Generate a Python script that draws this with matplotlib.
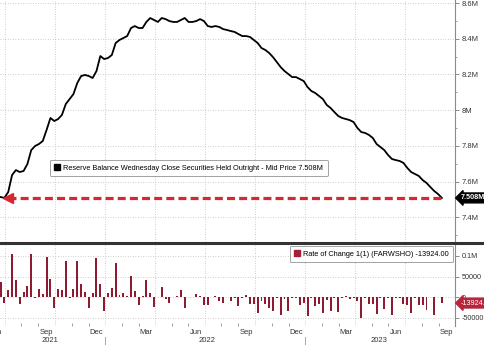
import numpy as np
import pandas as pd
import matplotlib
matplotlib.use("Agg")
import matplotlib.pyplot as plt
import matplotlib.dates as mdates
from matplotlib.patches import Patch
from matplotlib.lines import Line2D
from matplotlib.ticker import MultipleLocator, FuncFormatter

plt.rcParams["font.family"] = ["Liberation Sans", "DejaVu Sans"]

# weekly Wednesday close, securities held outright ($M)
weeks = pd.date_range("2021-06-09", periods=116, freq="7D")
holdings = [
    7.513, 7.508, 7.541, 7.636, 7.664, 7.653, 7.659, 7.698, 7.776, 7.799,
    7.810, 7.827, 7.889, 7.956, 7.939, 7.950, 7.973, 8.034, 8.062, 8.090,
    8.152, 8.191, 8.197, 8.191, 8.180, 8.219, 8.303, 8.286, 8.292, 8.309,
    8.376, 8.393, 8.404, 8.415, 8.460, 8.471, 8.460, 8.460, 8.494, 8.516,
    8.505, 8.494, 8.516, 8.510, 8.499, 8.494, 8.494, 8.505, 8.516, 8.494,
    8.494, 8.499, 8.510, 8.499, 8.471, 8.466, 8.471, 8.466, 8.454, 8.449,
    8.443, 8.438, 8.426, 8.415, 8.415, 8.410, 8.393, 8.376, 8.348, 8.337,
    8.320, 8.297, 8.269, 8.241, 8.219, 8.202, 8.185, 8.185, 8.174, 8.163,
    8.129, 8.107, 8.096, 8.079, 8.062, 8.029, 8.012, 7.989, 7.967, 7.956,
    7.950, 7.944, 7.933, 7.900, 7.877, 7.872, 7.861, 7.844, 7.810, 7.793,
    7.776, 7.748, 7.726, 7.720, 7.715, 7.704, 7.676, 7.653, 7.642, 7.631,
    7.608, 7.592, 7.569, 7.547, 7.530, 7.508,
]
weekly_change = [
    36000, -15000, 17000, 106000, 41000, -17000, 13000, 27000, 104000, -2000,
    20000, 7000, 98000, 45000, -26000, 19000, 17000, 88000, -2000, 19000,
    87000, 33000, 13000, -27000, 11000, 94000, 33000, -33000, 10000, 23000,
    82000, 5000, 11000, 3000, 51000, 15000, -19000, 3000, 43000, 10000,
    -23000, 1000, 25000, -5000, -15000, 1000, 2000, 18000, -25000, 1000,
    1000, 9000, 3000, -19000, -19000, 1000, 2000, -9000, -15000, 1000,
    -10000, -2000, -22000, -1000, 5000, -16000, -16000, -38000, -10000, -16000,
    -26000, -34000, -1000, -42000, -3000, -33000, -1000, -1000, -18000, -15000,
    -45000, -1000, -20000, -16000, -38000, -6000, -34000, -1000, -36000, -1000,
    3000, -3000, -1000, -8000, -50000, -1000, -16000, -16000, -40000, -1000,
    -28000, -1000, -42000, -1000, -1000, -16000, -19000, -37000, -1000, -19000,
    -19000, -31000, 1000, -42000, 1000, -13924,
]
month_labels = ["Jun", "Sep", "Dec", "Mar", "Jun", "Sep", "Dec", "Mar", "Jun", "Sep"]
year_labels = ["2021", "2022", "2023"]
line_label = "Reserve Balance Wednesday Close Securities Held Outright - Mid Price 7.508M"
bar_label = "Rate of Change 1(1) (FARWSHO) -13924.00"

label_months = pd.date_range("2021-06-01", "2023-09-01", freq="3MS")
grid_dates = label_months + pd.Timedelta(days=16)
minor_dates = pd.date_range("2021-06-01", "2023-09-01", freq="MS") + pd.Timedelta(days=16)
year_pos = pd.to_datetime(["2021-09-07", "2022-06-20", "2023-05-01"])

bar_color = "#8e1b32"
red = "#d6282e"
grid_kw = dict(color="#bdbdbd", lw=0.6, ls=(0, (1, 2)))
fs = 5.2

fig = plt.figure(figsize=(4.85, 3.45), dpi=100)
W, H = 485, 345
ax1 = fig.add_axes([0, 1 - 242 / H, 455 / W, 242 / H])
ax2 = fig.add_axes([0, 1 - 326 / H, 455 / W, 82 / H], sharex=ax1)

for ax in (ax1, ax2):
    for s in ("top", "left", "bottom"):
        ax.spines[s].set_visible(False)
    ax.spines["right"].set_color("#8a8a8a")
    ax.spines["right"].set_linewidth(0.8)
    ax.yaxis.tick_right()
    ax.tick_params(axis="y", which="major", length=3, width=0.6, color="#777777",
                   labelsize=fs, labelcolor="#333333", pad=2)
    ax.tick_params(axis="y", which="minor", length=1.5, width=0.5, color="#777777")
    ax.set_axisbelow(True)
    ax.set_xticks(mdates.date2num(grid_dates))
    ax.set_xticks(mdates.date2num(minor_dates), minor=True)
    ax.grid(True, which="major", **grid_kw)

ax1.set_xlim(pd.Timestamp("2021-06-08"), pd.Timestamp("2023-09-16"))

# main panel
ax1.plot(weeks, holdings, color="black", lw=1.3, zorder=3)
ax1.plot([weeks[2], weeks[-1]], [holdings[-1]] * 2, color=red, lw=2.3, dashes=(2.5, 1.3), zorder=4)
ax1.plot(weeks[2], holdings[-1], marker="<", ms=6.5, color=red, zorder=4)
ax1.set_ylim(7.261, 8.617)
ax1.set_yticks([7.4, 7.6, 7.8, 8.0, 8.2, 8.4, 8.6])
ax1.yaxis.set_minor_locator(MultipleLocator(0.1))
ax1.yaxis.set_major_formatter(FuncFormatter(lambda v, p: f"{v:g}M"))
ax1.tick_params(axis="y", which="major", labelsize=5.5)
ax1.tick_params(axis="x", which="both", length=0, labelbottom=False)

ax1.text(461 / 455, holdings[-1], "7.508M", transform=ax1.get_yaxis_transform(),
         ha="left", va="center", fontsize=fs, color="white", fontweight="bold", zorder=10,
         bbox=dict(boxstyle="larrow,pad=0.2", fc="black", ec="black"), clip_on=False)

leg1 = ax1.legend(handles=[Patch(facecolor="black", edgecolor="black")], labels=[line_label],
                  loc="upper left", bbox_to_anchor=(50 / 455, (242 - 160) / 242), borderaxespad=0,
                  fontsize=5.3, frameon=True, fancybox=True, edgecolor="#8a8a8a",
                  handlelength=0.8, handleheight=0.8, handletextpad=0.4, borderpad=0.6)
leg1.get_frame().set_linewidth(0.7)

# bottom panel
ax2.bar(weeks, weekly_change, width=3.6, color=bar_color, zorder=3)
ax2.set_ylim(-69500, 129000)
ax2.set_yticks([-50000, 0, 50000, 100000])
ax2.set_yticklabels(["-50000", "0", "50000", "0.1M"])
ax2.tick_params(axis="x", which="major", length=0, labelbottom=False)
ax2.tick_params(axis="x", which="minor", length=2, width=0.5, color="#777777", direction="in")

ax2.text(461 / 455, weekly_change[-1], "-13924.00", transform=ax2.get_yaxis_transform(),
         ha="left", va="center", fontsize=fs, color="white", zorder=10,
         bbox=dict(boxstyle="larrow,pad=0.2", fc="#b5263a", ec="#b5263a"), clip_on=False)

leg2 = ax2.legend(handles=[Patch(facecolor="#a61f37", edgecolor="#a61f37")], labels=[bar_label],
                  loc="upper right", bbox_to_anchor=(453 / 455, (326 - 246) / 82), borderaxespad=0,
                  fontsize=5.3, frameon=True, fancybox=True, edgecolor="#8a8a8a",
                  handlelength=0.8, handleheight=0.8, handletextpad=0.4, borderpad=0.6)
leg2.get_frame().set_linewidth(0.7)

xt = ax2.get_xaxis_transform()
for d, name in zip(label_months, month_labels):
    ax2.text(d, -7 / 82, name, transform=xt, ha="center", va="center",
             fontsize=5.5, color="#333333", clip_on=False)
for d, name in zip(year_pos, year_labels):
    ax2.text(d, -15 / 82, name, transform=xt, ha="center", va="center",
             fontsize=5.5, color="#333333", clip_on=False)
for d in [grid_dates[2], grid_dates[6]]:
    ax2.plot([d, d], [-11 / 82, -20 / 82], transform=xt, color="#999999", lw=0.6, clip_on=False)

# separator between panels
fig.add_artist(Line2D([0, 1], [1 - 242.5 / H] * 2, color="#333333", lw=2.2))

fig.savefig("out.png", dpi=100)
